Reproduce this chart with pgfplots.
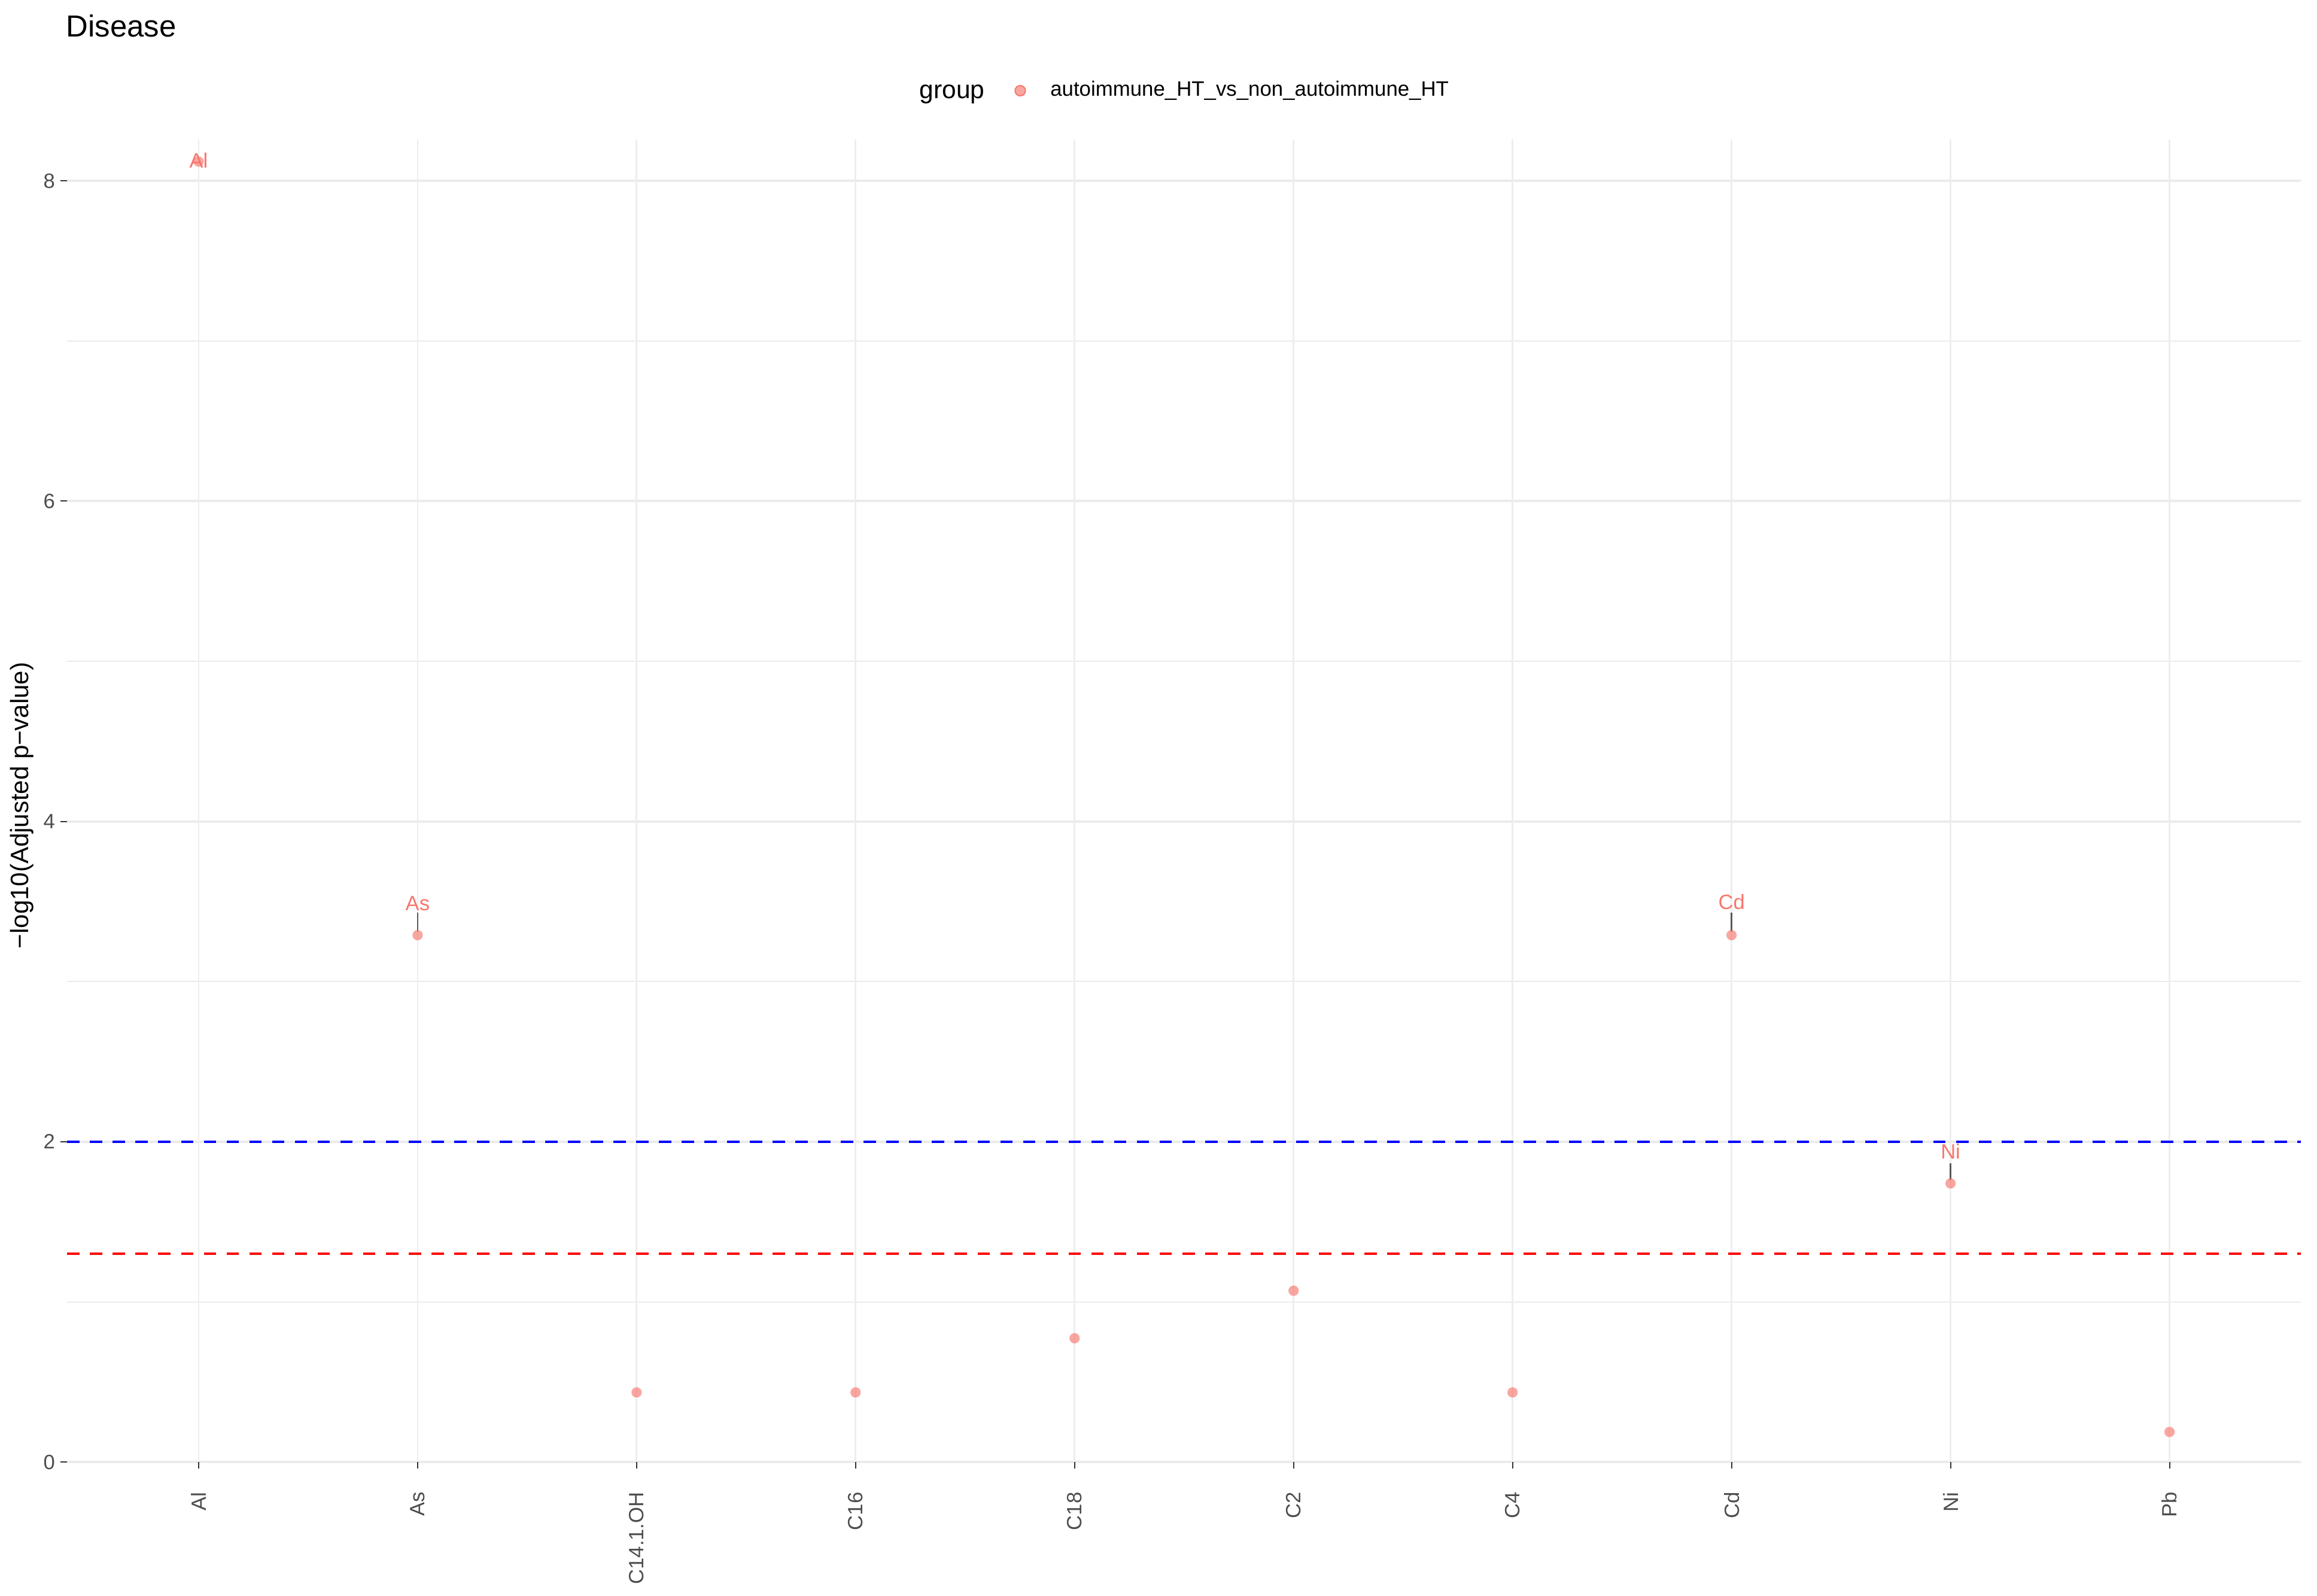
\documentclass[border=0pt]{standalone}
\usepackage{fontspec}
\setmainfont{Liberation Sans}
\usepackage{pgfplots}
\pgfplotsset{compat=1.18}
\definecolor{ptcol}{HTML}{F8766D}
\definecolor{gridcol}{HTML}{EBEBEB}
\definecolor{tickcol}{HTML}{4D4D4D}
\definecolor{hblue}{HTML}{0000FF}
\definecolor{hred}{HTML}{FF0000}
\definecolor{segcol}{HTML}{5A5A5A}
\begin{document}
\begin{tikzpicture}
\useasboundingbox (-22.75pt,-45.3pt) rectangle (761.25pt,494.7pt);
\begin{axis}[
  at={(0pt,0pt)}, anchor=south west,
  scale only axis, width=755.8pt, height=447.6pt,
  xmin=0.4, xmax=10.6, ymin=0, ymax=8.26,
  xtick={1,2,3,4,5,6,7,8,9,10},
  xticklabels={Al,As,C14.1.OH,C16,C18,C2,C4,Cd,Ni,Pb},
  ytick={0,2,4,6,8},
  minor ytick={1,3,5,7},
  ymajorgrids, yminorgrids, xmajorgrids=false,
  major grid style={gridcol, line width=0.85pt},
  minor grid style={gridcol, line width=0.43pt},
  axis line style={draw=none},
  tick align=outside,
  xtick pos=bottom, ytick pos=left,
  major tick length=2.2pt,
  minor tick length=0pt,
  tick style={color=black!80, line width=0.43pt},
  /pgf/number format/assume math mode=true,
  yticklabel style={font=\fontsize{7}{8}\selectfont, color=tickcol, anchor=east, inner xsep=1.75pt},
  xticklabel style={font=\fontsize{7}{8}\selectfont, color=tickcol, rotate=90, anchor=east, inner xsep=7.8pt, inner ysep=0pt},
  legend style={at={(0.4215,1.0366)}, anchor=west, draw=none, fill=none, inner sep=0pt,
    font=\fontsize{7.05}{8}\selectfont},
  unbounded coords=jump,
  clip=false,
]
\addplot[gridcol!85!white, line width=0.55pt, forget plot] coordinates {
  (1,0) (1,8.26) (nan,nan) (2,0) (2,8.26) (nan,nan) (3,0) (3,8.26) (nan,nan)
  (4,0) (4,8.26) (nan,nan) (5,0) (5,8.26) (nan,nan) (6,0) (6,8.26) (nan,nan)
  (7,0) (7,8.26) (nan,nan) (8,0) (8,8.26) (nan,nan) (9,0) (9,8.26) (nan,nan)
  (10,0) (10,8.26)};
\addplot[hblue, dash pattern=on 4.2pt off 3.5pt, line width=0.9pt, forget plot] coordinates {(0.4,2) (10.6,2)};
\addplot[hred, dash pattern=on 4.2pt off 3.5pt, line width=0.9pt, forget plot] coordinates {(0.4,1.30103) (10.6,1.30103)};
\addplot[segcol, line width=0.5pt, forget plot] coordinates {(2,3.31) (2,3.43)};
\addplot[segcol, line width=0.5pt, forget plot] coordinates {(8,3.31) (8,3.43)};
\addplot[segcol, line width=0.5pt, forget plot] coordinates {(9,1.76) (9,1.865)};
\addplot[only marks, mark=*, mark size=1.75pt, color=ptcol,
  mark options={draw opacity=0, fill=ptcol, fill opacity=0.65},
  legend image code/.code={\fill[ptcol, fill opacity=0.65] (0pt,0pt) circle (1.75pt); \path (-3.5pt,0pt) (8pt,0pt);}]
  coordinates {(1,8.12) (2,3.29) (3,0.435) (4,0.435) (5,0.773) (6,1.07) (7,0.435) (8,3.29) (9,1.74) (10,0.188)};
\addlegendentry{autoimmune\_HT\_vs\_non\_autoimmune\_HT}
\node[font=\fontsize{7}{8}\selectfont, text=ptcol, anchor=base, inner sep=0pt] at (axis cs:1,8.08) {Al};
\node[font=\fontsize{7}{8}\selectfont, text=ptcol, anchor=base, inner sep=0pt] at (axis cs:2,3.445) {As};
\node[font=\fontsize{7}{8}\selectfont, text=ptcol, anchor=base, inner sep=0pt] at (axis cs:8,3.45) {Cd};
\node[font=\fontsize{7}{8}\selectfont, text=ptcol, anchor=base, inner sep=0pt] at (axis cs:9,1.895) {Ni};
\end{axis}
\node[anchor=base west, font=\fontsize{10.3}{12}\selectfont, inner sep=0pt] at (-0.5pt,482.2pt) {Disease};
\node[anchor=base west, font=\fontsize{8.6}{10}\selectfont, inner sep=0pt] at (288.25pt,461.3pt) {group};
\node[rotate=90, anchor=center, font=\fontsize{8.5}{10}\selectfont, inner sep=0pt] at (-15.25pt,222.2pt) {−log10(Adjusted p−value)};
\end{tikzpicture}
\end{document}
